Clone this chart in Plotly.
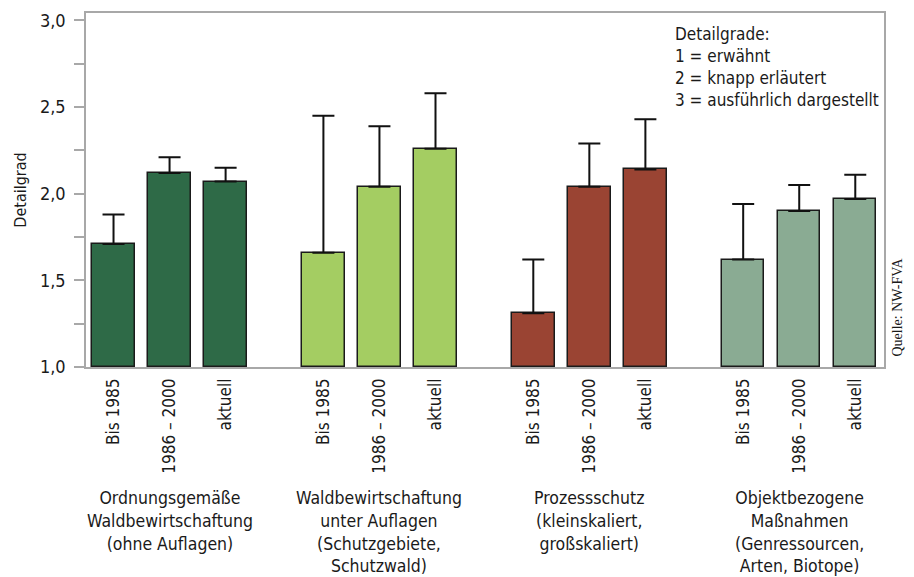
import plotly.graph_objects as go

# Detail level of forest-management goals in planning documents
groups = [
    "Ordnungsgemäße<br>Waldbewirtschaftung<br>(ohne Auflagen)",
    "Waldbewirtschaftung<br>unter Auflagen<br>(Schutzgebiete,<br>Schutzwald)",
    "Prozessschutz<br>(kleinskaliert,<br>großskaliert)",
    "Objektbezogene<br>Maßnahmen<br>(Genressourcen,<br>Arten, Biotope)",
]
periods = ["Bis 1985", "1986 – 2000", "aktuell"]
means = [
    [1.71, 2.12, 2.07],
    [1.66, 2.04, 2.26],
    [1.31, 2.04, 2.14],
    [1.62, 1.90, 1.97],
]
errors = [
    [0.17, 0.09, 0.08],
    [0.79, 0.35, 0.32],
    [0.31, 0.25, 0.29],
    [0.32, 0.15, 0.14],
]
colors = ["#2e6a47", "#a4cd62", "#9a4433", "#8aab93"]
y_ticks = [1.0, 1.25, 1.5, 1.75, 2.0, 2.25, 2.5, 2.75, 3.0]

FONT = "DejaVu Sans Condensed, Roboto, Arial, sans-serif"
GROUP_STEP = 3.745  # distance between group starts, in bar slots

fig = go.Figure()
tick_pos, tick_txt = [], []
for g, (vals, errs, col) in enumerate(zip(means, errors, colors)):
    xs = [g * GROUP_STEP + i for i in range(len(periods))]
    tick_pos += xs
    tick_txt += periods
    fig.add_trace(go.Bar(
        x=xs, y=[v - 1.0 for v in vals], base=1.0, width=0.757,
        marker=dict(color=col, line=dict(color="#1a1a1a", width=1.5)),
        error_y=dict(type="data", array=errs, arrayminus=[0] * len(errs),
                     symmetric=False, color="#111111", thickness=2, width=11),
        showlegend=False, hoverinfo="skip",
    ))
    fig.add_annotation(
        x=g * GROUP_STEP + 1, y=-0.335, xref="x", yref="paper",
        text=groups[g], showarrow=False, yanchor="top", xanchor="center",
        align="center", font=dict(family=FONT, size=17.5, color="#1a1a1a"),
    )

fig.add_annotation(
    x=0.736, y=0.975, xref="paper", yref="paper", xanchor="left", yanchor="top",
    align="left", showarrow=False,
    text="Detailgrade:<br>1 = erwähnt<br>2 = knapp erläutert<br>3 = ausführlich dargestellt",
    font=dict(family=FONT, size=17, color="#1a1a1a"),
)
fig.add_annotation(
    x=1.0157, y=0.024, xref="paper", yref="paper", xanchor="center", yanchor="bottom",
    showarrow=False, textangle=-90, text="Quelle: NW-FVA",
    font=dict(family="Liberation Serif, Times New Roman, serif", size=14, color="#1a1a1a"),
)

fig.update_layout(
    width=914, height=577, margin=dict(l=86, r=30, t=10, b=209.5),
    paper_bgcolor="white", plot_bgcolor="white", bargap=0,
    font=dict(family=FONT, size=17, color="#1a1a1a"),
)
fig.update_xaxes(
    range=[-0.491, 3 * GROUP_STEP + 2 + 0.5125], tickvals=tick_pos, ticktext=tick_txt,
    tickangle=-90, ticks="outside", ticklen=3, tickcolor="rgba(0,0,0,0)",
    showline=True, linecolor="#a8a8a8", linewidth=1.5, mirror=True,
    showgrid=False, zeroline=False, tickfont=dict(family=FONT, size=17),
)
fig.update_yaxes(
    range=[1.0, 3.043], tickvals=y_ticks,
    ticktext=[f"{v:.1f}".replace(".", ",") if abs(v * 2 - round(v * 2)) < 1e-9 else "" for v in y_ticks],
    ticks="outside", ticklen=10, tickcolor="#a8a8a8", tickwidth=1.5, ticklabelstandoff=5,
    showline=True, linecolor="#a8a8a8", linewidth=1.5, mirror=True,
    showgrid=False, zeroline=False, tickfont=dict(family=FONT, size=18),
    title=dict(text="Detailgrad", font=dict(family=FONT, size=16), standoff=9),
)

fig.write_html("out.html")
